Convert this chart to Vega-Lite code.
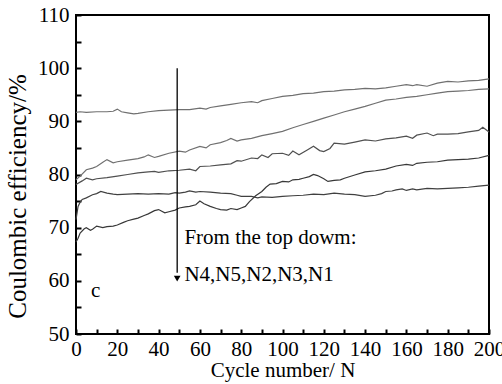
{
"$schema":"https://vega.github.io/schema/vega-lite/v6.json",
"width":413,"height":319,"autosize":{"type":"none"},
"padding":{"left":76,"top":15,"right":13,"bottom":50},
"background":"white",
"config":{"view":{"stroke":"black","strokeWidth":2},"font":"Liberation Serif",
 "axis":{"labelFont":"Liberation Serif","titleFont":"Liberation Serif","labelFontSize":21,"titleFontSize":21,"labelColor":"black","titleColor":"black","titleFontWeight":"normal","grid":false,"domain":false,"tickColor":"black","tickWidth":2}},
"datasets":{
"lines":[
{"s":"N4","c":0,"v":91.7},{"s":"N4","c":2,"v":91.8},{"s":"N4","c":5,"v":91.7},{"s":"N4","c":10,"v":91.8},{"s":"N4","c":15,"v":91.8},{"s":"N4","c":18,"v":91.9},{"s":"N4","c":20,"v":92.3},{"s":"N4","c":22,"v":91.8},{"s":"N4","c":25,"v":91.6},{"s":"N4","c":28,"v":91.4},{"s":"N4","c":30,"v":91.5},{"s":"N4","c":35,"v":91.8},{"s":"N4","c":40,"v":92.0},{"s":"N4","c":45,"v":92.1},{"s":"N4","c":50,"v":92.2},{"s":"N4","c":55,"v":92.2},{"s":"N4","c":60,"v":92.5},{"s":"N4","c":63,"v":92.3},{"s":"N4","c":65,"v":92.6},{"s":"N4","c":70,"v":92.9},{"s":"N4","c":75,"v":93.2},{"s":"N4","c":80,"v":93.5},{"s":"N4","c":85,"v":93.7},{"s":"N4","c":88,"v":93.5},{"s":"N4","c":90,"v":93.9},{"s":"N4","c":95,"v":94.3},{"s":"N4","c":100,"v":94.7},{"s":"N4","c":105,"v":94.9},{"s":"N4","c":110,"v":95.2},{"s":"N4","c":115,"v":95.3},{"s":"N4","c":120,"v":95.6},{"s":"N4","c":125,"v":95.7},{"s":"N4","c":130,"v":95.9},{"s":"N4","c":135,"v":96.0},{"s":"N4","c":140,"v":96.2},{"s":"N4","c":145,"v":96.1},{"s":"N4","c":150,"v":96.3},{"s":"N4","c":155,"v":96.6},{"s":"N4","c":160,"v":96.9},{"s":"N4","c":163,"v":96.7},{"s":"N4","c":165,"v":96.9},{"s":"N4","c":170,"v":96.6},{"s":"N4","c":175,"v":97.2},{"s":"N4","c":180,"v":97.5},{"s":"N4","c":185,"v":97.4},{"s":"N4","c":190,"v":97.6},{"s":"N4","c":195,"v":97.7},{"s":"N4","c":200,"v":98.0},
{"s":"N5","c":0,"v":79.0},{"s":"N5","c":2,"v":79.7},{"s":"N5","c":5,"v":80.9},{"s":"N5","c":8,"v":81.2},{"s":"N5","c":10,"v":81.5},{"s":"N5","c":13,"v":82.3},{"s":"N5","c":15,"v":82.8},{"s":"N5","c":18,"v":82.2},{"s":"N5","c":20,"v":82.4},{"s":"N5","c":25,"v":82.7},{"s":"N5","c":30,"v":83.0},{"s":"N5","c":33,"v":83.3},{"s":"N5","c":35,"v":83.7},{"s":"N5","c":38,"v":83.2},{"s":"N5","c":40,"v":83.4},{"s":"N5","c":45,"v":84.0},{"s":"N5","c":50,"v":84.4},{"s":"N5","c":53,"v":84.2},{"s":"N5","c":55,"v":84.6},{"s":"N5","c":60,"v":85.3},{"s":"N5","c":63,"v":85.0},{"s":"N5","c":65,"v":85.6},{"s":"N5","c":70,"v":86.0},{"s":"N5","c":73,"v":86.4},{"s":"N5","c":75,"v":86.8},{"s":"N5","c":78,"v":86.3},{"s":"N5","c":80,"v":86.5},{"s":"N5","c":85,"v":86.8},{"s":"N5","c":90,"v":87.3},{"s":"N5","c":95,"v":87.7},{"s":"N5","c":100,"v":88.1},{"s":"N5","c":105,"v":88.8},{"s":"N5","c":110,"v":89.4},{"s":"N5","c":115,"v":90.0},{"s":"N5","c":120,"v":90.6},{"s":"N5","c":125,"v":91.2},{"s":"N5","c":130,"v":91.8},{"s":"N5","c":135,"v":92.3},{"s":"N5","c":140,"v":92.8},{"s":"N5","c":145,"v":93.4},{"s":"N5","c":150,"v":94.0},{"s":"N5","c":155,"v":94.2},{"s":"N5","c":160,"v":94.5},{"s":"N5","c":165,"v":94.7},{"s":"N5","c":170,"v":95.0},{"s":"N5","c":175,"v":95.3},{"s":"N5","c":180,"v":95.6},{"s":"N5","c":185,"v":95.7},{"s":"N5","c":190,"v":95.8},{"s":"N5","c":195,"v":96.0},{"s":"N5","c":200,"v":96.1},
{"s":"N2","c":0,"v":78.1},{"s":"N2","c":3,"v":78.8},{"s":"N2","c":5,"v":79.3},{"s":"N2","c":8,"v":79.0},{"s":"N2","c":10,"v":79.2},{"s":"N2","c":15,"v":79.4},{"s":"N2","c":20,"v":79.7},{"s":"N2","c":25,"v":80.0},{"s":"N2","c":30,"v":80.3},{"s":"N2","c":35,"v":80.5},{"s":"N2","c":38,"v":80.6},{"s":"N2","c":40,"v":80.4},{"s":"N2","c":45,"v":80.7},{"s":"N2","c":50,"v":80.8},{"s":"N2","c":55,"v":81.0},{"s":"N2","c":58,"v":80.7},{"s":"N2","c":60,"v":81.5},{"s":"N2","c":65,"v":81.6},{"s":"N2","c":70,"v":81.8},{"s":"N2","c":75,"v":82.0},{"s":"N2","c":78,"v":82.6},{"s":"N2","c":80,"v":82.5},{"s":"N2","c":85,"v":83.1},{"s":"N2","c":88,"v":83.0},{"s":"N2","c":90,"v":83.7},{"s":"N2","c":93,"v":83.2},{"s":"N2","c":95,"v":83.9},{"s":"N2","c":100,"v":84.0},{"s":"N2","c":103,"v":83.6},{"s":"N2","c":105,"v":84.4},{"s":"N2","c":108,"v":83.7},{"s":"N2","c":112,"v":84.6},{"s":"N2","c":115,"v":85.3},{"s":"N2","c":118,"v":84.5},{"s":"N2","c":120,"v":84.3},{"s":"N2","c":123,"v":84.9},{"s":"N2","c":125,"v":85.9},{"s":"N2","c":130,"v":85.7},{"s":"N2","c":135,"v":86.1},{"s":"N2","c":140,"v":86.5},{"s":"N2","c":145,"v":86.3},{"s":"N2","c":150,"v":86.7},{"s":"N2","c":155,"v":86.9},{"s":"N2","c":160,"v":87.2},{"s":"N2","c":163,"v":86.8},{"s":"N2","c":165,"v":87.4},{"s":"N2","c":170,"v":87.8},{"s":"N2","c":173,"v":87.3},{"s":"N2","c":175,"v":87.6},{"s":"N2","c":180,"v":87.6},{"s":"N2","c":185,"v":87.7},{"s":"N2","c":190,"v":88.0},{"s":"N2","c":195,"v":88.3},{"s":"N2","c":197,"v":88.9},{"s":"N2","c":200,"v":88.0},
{"s":"N3","c":0,"v":67.3},{"s":"N3","c":1,"v":68.0},{"s":"N3","c":2,"v":69.0},{"s":"N3","c":4,"v":69.8},{"s":"N3","c":5,"v":70.0},{"s":"N3","c":7,"v":69.5},{"s":"N3","c":8,"v":69.7},{"s":"N3","c":10,"v":70.3},{"s":"N3","c":13,"v":70.0},{"s":"N3","c":15,"v":70.2},{"s":"N3","c":18,"v":70.3},{"s":"N3","c":20,"v":70.5},{"s":"N3","c":23,"v":71.0},{"s":"N3","c":25,"v":71.3},{"s":"N3","c":28,"v":71.6},{"s":"N3","c":30,"v":71.8},{"s":"N3","c":33,"v":72.3},{"s":"N3","c":35,"v":72.6},{"s":"N3","c":38,"v":73.2},{"s":"N3","c":40,"v":73.4},{"s":"N3","c":43,"v":72.8},{"s":"N3","c":45,"v":73.0},{"s":"N3","c":48,"v":73.3},{"s":"N3","c":50,"v":73.7},{"s":"N3","c":53,"v":73.9},{"s":"N3","c":55,"v":74.0},{"s":"N3","c":58,"v":74.3},{"s":"N3","c":60,"v":75.0},{"s":"N3","c":62,"v":74.5},{"s":"N3","c":65,"v":74.0},{"s":"N3","c":68,"v":73.6},{"s":"N3","c":70,"v":73.4},{"s":"N3","c":73,"v":73.3},{"s":"N3","c":75,"v":73.6},{"s":"N3","c":78,"v":73.4},{"s":"N3","c":80,"v":73.7},{"s":"N3","c":82,"v":74.0},{"s":"N3","c":84,"v":74.9},{"s":"N3","c":87,"v":76.0},{"s":"N3","c":90,"v":76.8},{"s":"N3","c":92,"v":77.6},{"s":"N3","c":94,"v":78.2},{"s":"N3","c":97,"v":78.3},{"s":"N3","c":100,"v":78.7},{"s":"N3","c":103,"v":78.6},{"s":"N3","c":105,"v":79.0},{"s":"N3","c":108,"v":79.1},{"s":"N3","c":110,"v":79.3},{"s":"N3","c":113,"v":79.6},{"s":"N3","c":115,"v":80.0},{"s":"N3","c":117,"v":79.8},{"s":"N3","c":120,"v":79.2},{"s":"N3","c":122,"v":78.7},{"s":"N3","c":125,"v":78.9},{"s":"N3","c":128,"v":79.0},{"s":"N3","c":130,"v":79.3},{"s":"N3","c":135,"v":79.9},{"s":"N3","c":140,"v":80.5},{"s":"N3","c":145,"v":80.7},{"s":"N3","c":150,"v":81.0},{"s":"N3","c":155,"v":81.6},{"s":"N3","c":160,"v":81.9},{"s":"N3","c":163,"v":81.7},{"s":"N3","c":165,"v":82.1},{"s":"N3","c":170,"v":82.3},{"s":"N3","c":175,"v":82.4},{"s":"N3","c":180,"v":82.7},{"s":"N3","c":185,"v":82.8},{"s":"N3","c":190,"v":82.9},{"s":"N3","c":195,"v":83.1},{"s":"N3","c":200,"v":83.6},
{"s":"N1","c":0,"v":71.5},{"s":"N1","c":1,"v":74.0},{"s":"N1","c":2,"v":74.8},{"s":"N1","c":3,"v":75.3},{"s":"N1","c":5,"v":75.6},{"s":"N1","c":8,"v":76.2},{"s":"N1","c":10,"v":76.4},{"s":"N1","c":12,"v":76.8},{"s":"N1","c":15,"v":76.5},{"s":"N1","c":18,"v":76.3},{"s":"N1","c":20,"v":76.2},{"s":"N1","c":25,"v":76.3},{"s":"N1","c":30,"v":76.4},{"s":"N1","c":35,"v":76.3},{"s":"N1","c":40,"v":76.4},{"s":"N1","c":45,"v":76.3},{"s":"N1","c":48,"v":76.6},{"s":"N1","c":50,"v":76.5},{"s":"N1","c":53,"v":76.7},{"s":"N1","c":55,"v":76.9},{"s":"N1","c":58,"v":76.7},{"s":"N1","c":60,"v":76.8},{"s":"N1","c":65,"v":76.7},{"s":"N1","c":70,"v":76.5},{"s":"N1","c":75,"v":76.4},{"s":"N1","c":78,"v":76.1},{"s":"N1","c":80,"v":75.9},{"s":"N1","c":85,"v":75.9},{"s":"N1","c":88,"v":75.6},{"s":"N1","c":90,"v":75.8},{"s":"N1","c":95,"v":75.7},{"s":"N1","c":100,"v":75.9},{"s":"N1","c":105,"v":76.0},{"s":"N1","c":110,"v":76.1},{"s":"N1","c":115,"v":76.3},{"s":"N1","c":120,"v":76.2},{"s":"N1","c":125,"v":76.5},{"s":"N1","c":130,"v":76.3},{"s":"N1","c":135,"v":76.2},{"s":"N1","c":140,"v":75.9},{"s":"N1","c":145,"v":76.1},{"s":"N1","c":148,"v":76.4},{"s":"N1","c":150,"v":76.8},{"s":"N1","c":153,"v":76.9},{"s":"N1","c":155,"v":77.1},{"s":"N1","c":158,"v":77.3},{"s":"N1","c":160,"v":77.0},{"s":"N1","c":163,"v":77.3},{"s":"N1","c":165,"v":77.1},{"s":"N1","c":170,"v":77.4},{"s":"N1","c":175,"v":77.3},{"s":"N1","c":180,"v":77.4},{"s":"N1","c":185,"v":77.5},{"s":"N1","c":190,"v":77.6},{"s":"N1","c":195,"v":77.8},{"s":"N1","c":200,"v":78.0}
],
"arrow":[{"x":49,"y":100,"y2":61.5}],
"head":[{"x":49,"y":60.4}],
"notes":[{"x":52.5,"y":66.9,"t":"From the top dowm:"},{"x":52.5,"y":60.0,"t":"N4,N5,N2,N3,N1"},{"x":7.3,"y":56.9,"t":"c"}]
},
"layer":[
 {"data":{"name":"lines"},
  "mark":{"type":"line","strokeWidth":1.2},
  "encoding":{
   "x":{"field":"c","type":"quantitative","scale":{"domain":[0,200],"nice":false},
        "axis":{"orient":"bottom","title":"Cycle number/ N","tickSize":-5,"values":[0,10,20,30,40,50,60,70,80,90,100,110,120,130,140,150,160,170,180,190,200],"labelExpr":"datum.value % 20 == 0 ? datum.label : ''","labelPadding":9,"labelFlush":false,"titleBaseline":"alphabetic","titleY":42}},
   "y":{"field":"v","type":"quantitative","scale":{"domain":[50,110],"nice":false,"zero":false},
        "axis":{"orient":"left","title":"Coulombic efficiency/%","titleFontSize":25,"tickSize":-5,"values":[50,55,60,65,70,75,80,85,90,95,100,105,110],"labelExpr":"datum.value % 10 == 0 ? datum.label : ''","labelPadding":12,"labelFlush":false,"titleX":-59,"titleY":181,"titleBaseline":"middle"}},
   "color":{"field":"s","type":"nominal","scale":{"domain":["N4","N5","N2","N3","N1"],"range":["#707070","#707070","#505050","#383838","#404040"]},"legend":null}
  }},
 {"layer":[
   {"data":{"name":"arrow"},"mark":{"type":"rule","color":"black","strokeWidth":1.3},
    "encoding":{
     "x":{"field":"x","type":"quantitative","scale":{"domain":[0,200],"nice":false},
          "axis":{"orient":"top","title":null,"labels":false,"tickSize":-5,"values":[0,10,20,30,40,50,60,70,80,90,100,110,120,130,140,150,160,170,180,190,200]}},
     "y":{"field":"y","type":"quantitative","scale":{"domain":[50,110],"nice":false,"zero":false},
          "axis":{"orient":"right","title":null,"labels":false,"tickSize":-5,"values":[50,55,60,65,70,75,80,85,90,95,100,105,110]}},
     "y2":{"field":"y2"}}},
   {"data":{"name":"head"},"mark":{"type":"point","shape":"triangle-down","filled":true,"color":"black","size":45,"opacity":1},
    "encoding":{
     "x":{"field":"x","type":"quantitative","axis":null},
     "y":{"field":"y","type":"quantitative","axis":null}}},
   {"data":{"name":"notes"},"mark":{"type":"text","align":"left","baseline":"alphabetic","font":"Liberation Serif","fontSize":21,"color":"black"},
    "encoding":{
     "x":{"field":"x","type":"quantitative","axis":null},
     "y":{"field":"y","type":"quantitative","axis":null},
     "text":{"field":"t"}}}
 ]}
],
"resolve":{"axis":{"x":"independent","y":"independent"}}
}
